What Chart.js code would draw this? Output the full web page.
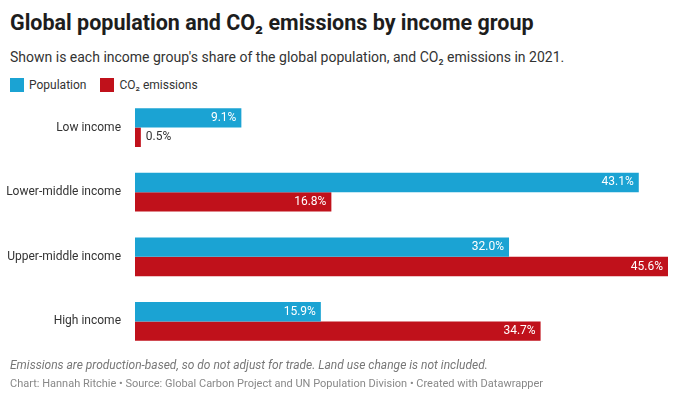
<!DOCTYPE html>
<html>
<head>
<meta charset="utf-8">
<script src="https://cdn.jsdelivr.net/npm/chart.js@4"></script>
<style>
  body { margin:0; width:680px; height:402px; background:#fff; font-family: Roboto, "Noto Sans", sans-serif; position:relative; overflow:hidden; }
  .title { position:absolute; left:10px; top:10px; font-size:21.5px; font-weight:bold; color:#1d1d1d; }
  .sub { position:absolute; left:10px; top:49px; font-size:14px; color:#333; }
  .legend { position:absolute; left:10px; top:78px; font-size:12px; color:#333; display:flex; gap:14px; }
  .legend span i { display:inline-block; width:14px; height:14px; vertical-align:-3px; margin-right:5px; }
  .note { position:absolute; left:10px; top:358px; font-size:12px; font-style:italic; color:#777; }
  .credit { position:absolute; left:10px; top:377px; font-size:11px; color:#888; }
  #wrap { position:absolute; left:0; top:82px; width:680px; height:285px; }
</style>
</head>
<body>
<div class="title">Global population and CO₂ emissions by income group</div>
<div class="sub">Shown is each income group's share of the global population, and CO₂ emissions in 2021.</div>
<div class="legend"><span><i style="background:#1ba3d3"></i>Population</span><span><i style="background:#c0111b"></i>CO₂ emissions</span></div>
<div id="wrap"><canvas id="chart"></canvas></div>
<div class="note">Emissions are production-based, so do not adjust for trade. Land use change is not included.</div>
<div class="credit">Chart: Hannah Ritchie • Source: Global Carbon Project and UN Population Division • Created with Datawrapper</div>
<script>
const categories = ['Low income', 'Lower-middle income', 'Upper-middle income', 'High income'];
const population = [9.1, 43.1, 32.0, 15.9];
const emissions = [0.5, 16.8, 45.6, 34.7];

const labelPlugin = {
  id: 'barLabels',
  afterDatasetsDraw(chart) {
    const ctx = chart.ctx;
    ctx.save();
    ctx.font = '12px Roboto, sans-serif';
    ctx.textBaseline = 'middle';
    chart.data.datasets.forEach((ds, i) => {
      chart.getDatasetMeta(i).data.forEach((bar, j) => {
        const txt = ds.data[j].toFixed(1) + '%';
        const w = ctx.measureText(txt).width;
        if (bar.x - bar.base > w + 10) {
          ctx.fillStyle = '#fff'; ctx.textAlign = 'right';
          ctx.fillText(txt, bar.x - 5, bar.y);
        } else {
          ctx.fillStyle = '#333'; ctx.textAlign = 'left';
          ctx.fillText(txt, bar.x + 5, bar.y);
        }
      });
    });
    ctx.restore();
  }
};

new Chart(document.getElementById('chart'), {
  type: 'bar',
  data: {
    labels: categories,
    datasets: [
      { label: 'Population', data: population, backgroundColor: '#1ba3d3' },
      { label: 'CO₂ emissions', data: emissions, backgroundColor: '#c0111b' }
    ]
  },
  options: {
    indexAxis: 'y',
    responsive: true,
    maintainAspectRatio: false,
    animation: false,
    datasets: { bar: { categoryPercentage: 0.6, barPercentage: 1 } },
    layout: { padding: { right: 12, top: 0, bottom: 0 } },
    plugins: { legend: { display: false }, tooltip: { enabled: false } },
    scales: {
      x: { display: false, min: 0, max: 45.6 },
      y: {
        grid: { display: false }, border: { display: false },
        ticks: { color: '#333', font: { size: 12, family: 'Roboto' }, padding: 6 },
        afterFit(scale) { scale.width = 135; }
      }
    }
  },
  plugins: [labelPlugin]
});
</script>
</body>
</html>
